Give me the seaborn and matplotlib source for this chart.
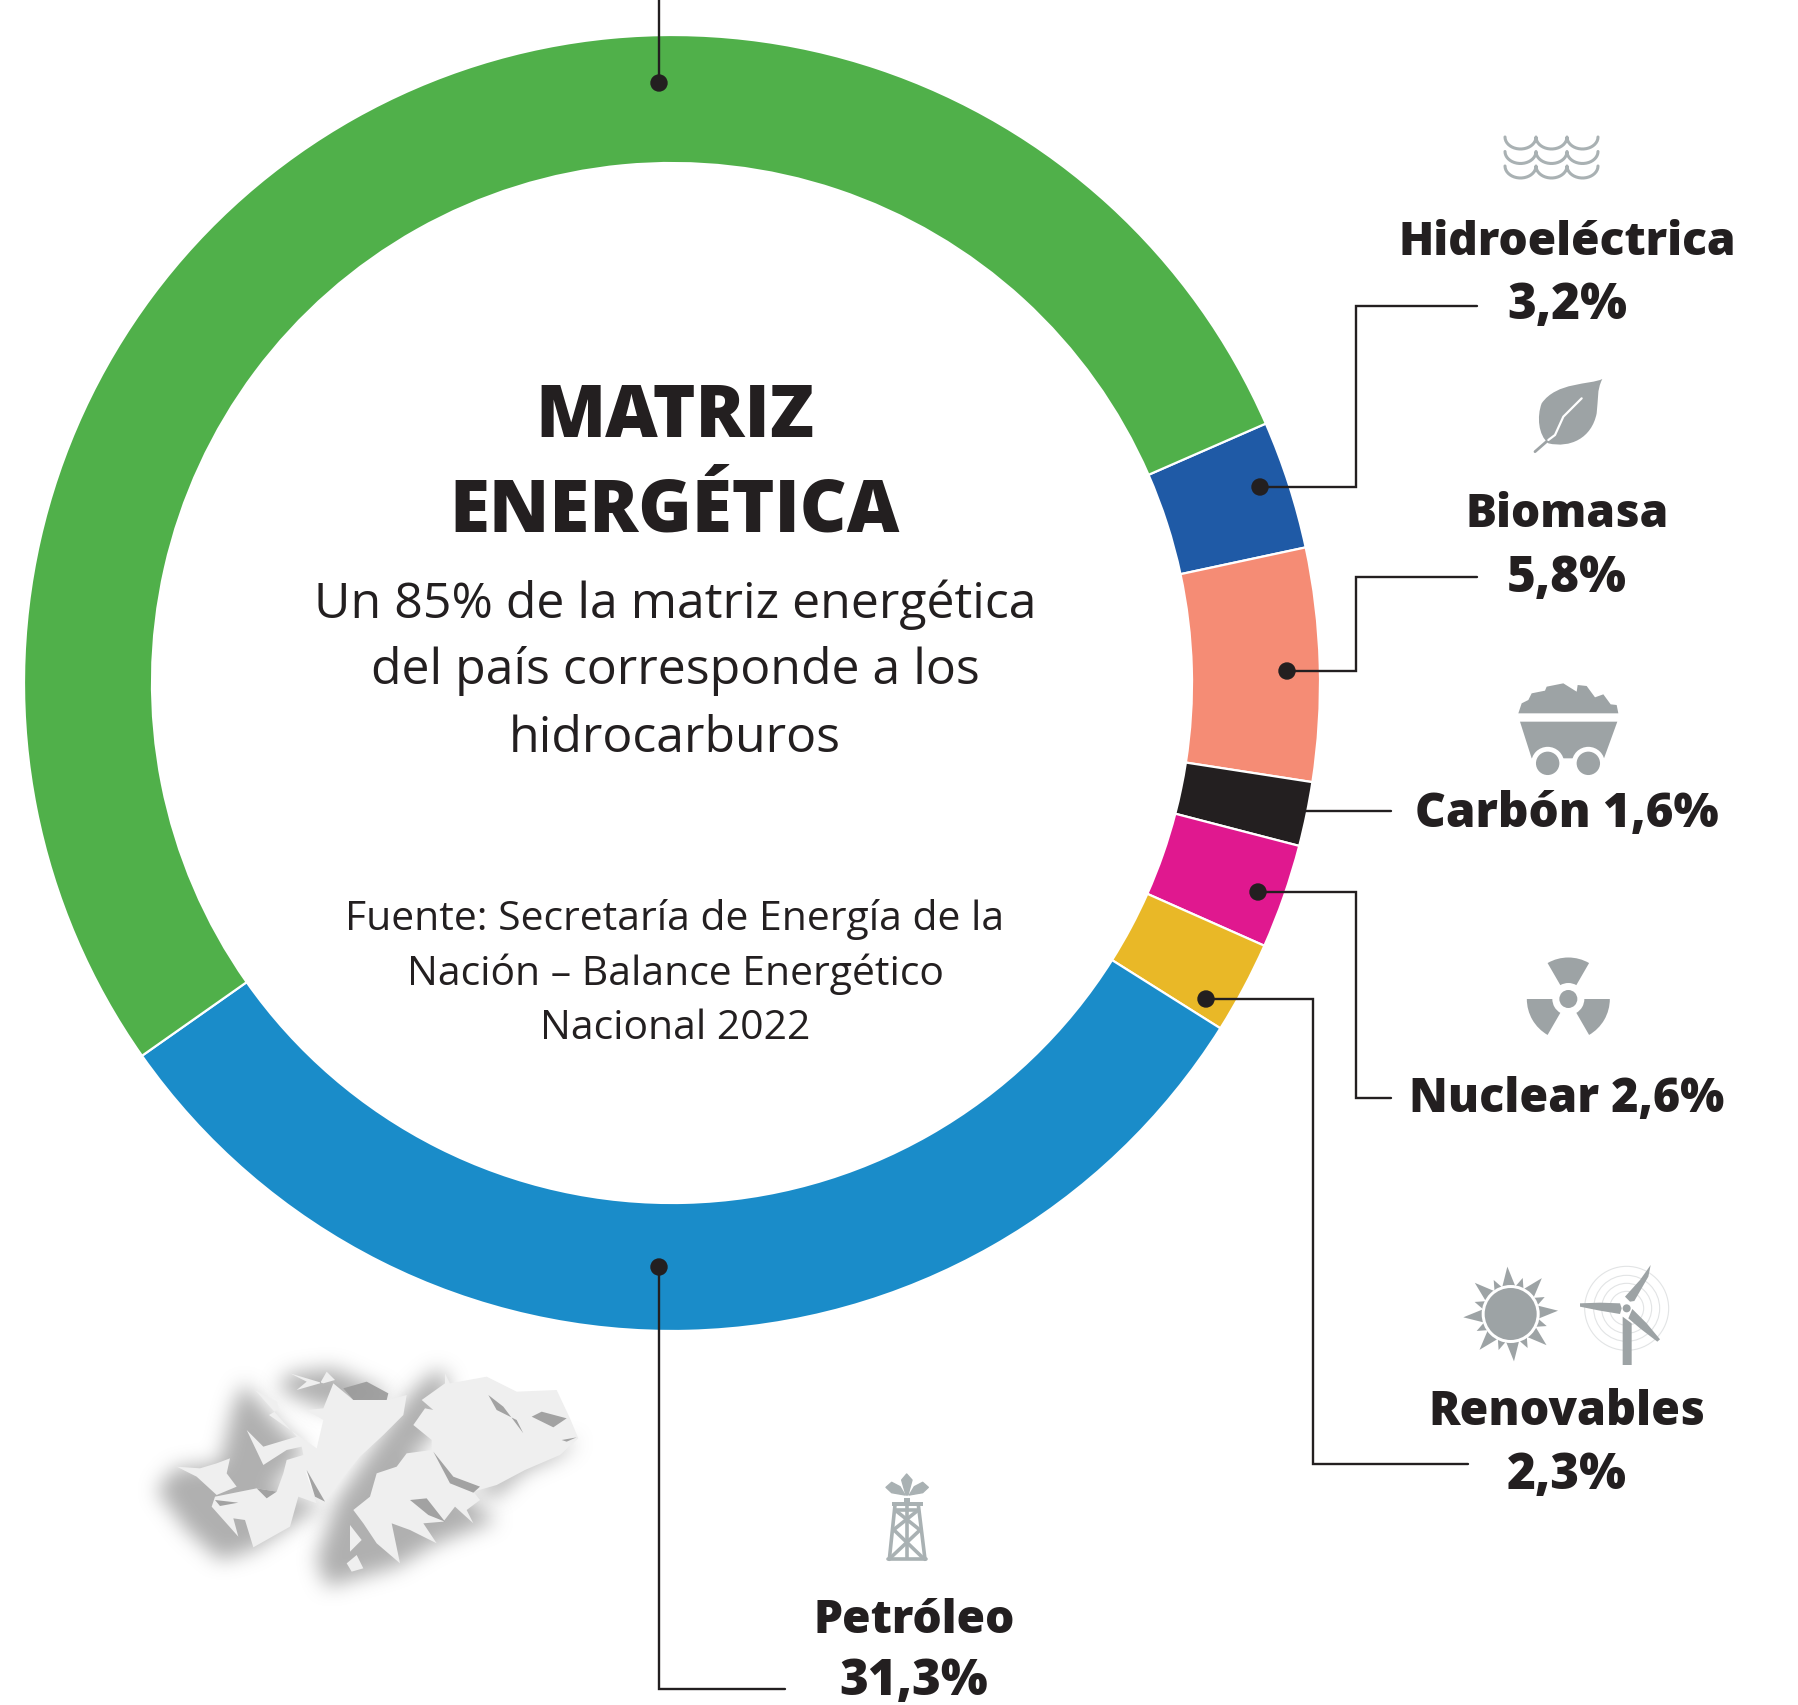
import numpy as np
import matplotlib
matplotlib.use('Agg')
import matplotlib.pyplot as plt
from matplotlib.patches import Polygon, Circle, Wedge, PathPatch
from matplotlib.path import Path
import seaborn as sns

# datos de la matriz (gas: el rotulo queda fuera del recorte)
fuentes = ['Hidroeléctrica', 'Biomasa', 'Carbón', 'Nuclear', 'Renovables', 'Petróleo', 'Gas']
valores = [3.2, 5.8, 1.6, 2.6, 2.3, 31.3, 53.2]
colores = ['#1F5AA6', '#F58C75', '#231F20', '#E0188F', '#E9B827', '#1A8CC9', '#50B04A']
etiquetas = ['3,2%', '5,8%', '1,6%', '2,6%', '2,3%', '31,3%']

sns.set_theme(style='white')
plt.rcParams['font.family'] = ['Open Sans', 'DejaVu Sans']

NEGRO = '#231F20'
GRIS = '#9DA3A5'

fig = plt.figure(figsize=(17.98, 17.05), dpi=100, facecolor='white')
ax = fig.add_axes([0, 0, 1, 1])

# el eje va en pixeles con y hacia abajo, asi que el angulo crece en sentido horario
ax.pie(valores, colors=sns.color_palette(colores), center=(672, 683), radius=648,
       startangle=-23.6, counterclock=True, normalize=True,
       wedgeprops=dict(width=128, edgecolor='white', linewidth=1.6))
ax.set_xlim(0, 1798)
ax.set_ylim(1705, 0)
ax.set_aspect('equal')
ax.axis('off')


def z(x0, y0, pts):
    return np.array(pts, dtype=float) / 3 + [x0, y0]


def linea(pts):
    pts = np.array(pts)
    ax.plot(pts[:, 0], pts[:, 1], color=NEGRO, lw=1.7, solid_joinstyle='miter', zorder=4)


def caja(a, r):
    # box blur sobre el eje 0
    h = a.shape[0]
    c = np.vstack([np.zeros((1, a.shape[1])), np.cumsum(a, axis=0)])
    i0 = np.clip(np.arange(h) - r, 0, h)
    i1 = np.clip(np.arange(h) + r + 1, 0, h)
    return (c[i1] - c[i0]) / (2 * r + 1)


def desenfoque(r):
    # blur para las sombras de las islas
    def filtro(img, dpi):
        pad = 3 * r + 2
        out = np.pad(img, ((pad, pad), (pad, pad), (0, 0)))
        alfa = out[:, :, 3]
        for _ in range(3):
            alfa = caja(alfa, r)
            alfa = caja(alfa.T, r).T
        out[:, :, :3] = matplotlib.colors.to_rgb('#9C9C9C')
        out[:, :, 3] = np.clip(alfa, 0, 1)
        return out, -pad, -pad
    return filtro


# lineas guia y puntos
linea([(659, 0), (659, 83)])
linea([(1260, 487), (1356, 487), (1356, 306), (1477, 306)])
linea([(1287, 671), (1356, 671), (1356, 577), (1477, 577)])
linea([(1305, 811), (1391, 811)])
linea([(1258, 892), (1356, 892), (1356, 1098), (1391, 1098)])
linea([(1206, 999), (1313, 999), (1313, 1464), (1468, 1464)])
linea([(659, 1267), (659, 1689), (785, 1689)])
for px, py in [(659, 83), (1260, 487), (1287, 671), (1258, 892), (1206, 999), (659, 1267)]:
    ax.add_patch(Circle((px, py), 8, color=NEGRO, zorder=5))

# textos centrales
tit = dict(ha='center', va='center', fontsize=52.2, fontweight=800, color=NEGRO)
ax.text(675, 418, 'MATRIZ', **tit)
ax.text(675, 513, 'ENERGÉTICA', **tit)
for ty, t in [(605, 'Un 85% de la matriz energética'), (671, 'del país corresponde a los'), (739, 'hidrocarburos')]:
    ax.text(675, ty, t, ha='center', va='center', fontsize=36, color=NEGRO)
for ty, t in [(919, 'Fuente: Secretaría de Energía de la'), (974, 'Nación – Balance Energético'), (1029, 'Nacional 2022')]:
    ax.text(675, ty, t, ha='center', va='center', fontsize=29.4, color=NEGRO)

# rotulos
LX = 1567
rot = dict(ha='center', va='center', fontsize=33.2, fontweight=800, color=NEGRO)
num = dict(rot, fontsize=35.6)
ax.text(LX, 243, fuentes[0], **rot)
ax.text(LX, 306, etiquetas[0], **num)
ax.text(LX, 515, fuentes[1], **rot)
ax.text(LX, 579, etiquetas[1], **num)
ax.text(LX, 815, fuentes[2] + ' ' + etiquetas[2], **dict(rot, fontsize=34.3))
ax.text(LX, 1100, fuentes[3] + ' ' + etiquetas[3], **dict(rot, fontsize=33.5))
ax.text(LX, 1413, fuentes[4], **dict(rot, fontsize=33.6))
ax.text(LX, 1476, etiquetas[4], **num)
ax.text(914, 1621, fuentes[5], **rot)
ax.text(914, 1682, etiquetas[5], **num)

# --- iconos ---
# olas
for oy in [0, 14.5, 29]:
    xs, ys = [], []
    for k in range(3):
        a = np.linspace(0, np.pi, 20)
        xs += list(1505 + 15.5 + 31 * k - 15.5 * np.cos(a))
        ys += list(137 + oy + 12 * np.sin(a))
    ax.plot(xs, ys, color='#A9B1B3', lw=2.2, solid_capstyle='round')

# hoja
Z1 = (1400, 110)
hoja = z(*Z1, [(607, 807), (570, 825), (470, 815), (425, 880), (410, 920), (415, 975), (445, 1000),
               (510, 1015), (575, 985), (590, 910), (595, 870), (590, 840), (607, 807)])
cods = [Path.MOVETO] + [Path.CURVE4] * 12
ax.add_patch(PathPatch(Path(hoja, cods), fc=GRIS, ec='none'))
t = z(*Z1, [(405, 1025), (445, 990)])
ax.plot(t[:, 0], t[:, 1], color=GRIS, lw=2)
n = z(*Z1, [(445, 990), (465, 975), (490, 920), (545, 865)])
ax.plot(n[:, 0], n[:, 1], color='white', lw=1.6)

# vagoneta
Z2 = (1400, 660)
ax.add_patch(Polygon(z(*Z2, [(355, 160), (365, 130), (385, 120), (395, 100), (435, 92), (440, 80), (490, 70),
                             (530, 95), (533, 75), (560, 78), (585, 112), (610, 103), (632, 133), (650, 135),
                             (655, 160)]), fc=GRIS, ec='none'))
ax.add_patch(Polygon(z(*Z2, [(360, 185), (652, 185), (612, 295), (395, 295)]), fc=GRIS, ec='none'))
for cx in [443, 565]:
    c = z(*Z2, [(cx, 310)])[0]
    ax.add_patch(Circle(c, 16.5, fc='white', ec='none'))
    ax.add_patch(Circle(c, 11.7, fc=GRIS, ec='none'))

# simbolo nuclear
c = z(*Z2, [(505, 1017)])[0]
ax.add_patch(Circle(c, 9, fc=GRIS, ec='none'))
for t1, t2 in [(240, 300), (120, 180), (0, 60)]:
    ax.add_patch(Wedge(c, 41.5, t1, t2, width=25.5, fc=GRIS, ec='none'))

# sol
Z3 = (1400, 1240)
c = z(*Z3, [(332, 222)])[0]
for k in range(8):
    for ang, tip, half in [(-4 + 45 * k, 47.5, 15), (18.5 + 45 * k, 38, 10)]:
        a0, a1 = np.radians([ang - half, ang + half])
        am = np.radians(ang)
        ax.add_patch(Polygon([c + 27 * np.array([np.cos(a0), np.sin(a0)]),
                              c + tip * np.array([np.cos(am), np.sin(am)]),
                              c + 27 * np.array([np.cos(a1), np.sin(a1)])], fc=GRIS, ec='none'))
ax.add_patch(Circle(c, 29, fc='white', ec='none'))
ax.add_patch(Circle(c, 26, fc=GRIS, ec='none'))

# molino
c = z(*Z3, [(680, 205)])[0]
for r in [17, 25, 33, 42]:
    ax.add_patch(Circle(c, r, fc='none', ec='#E2E4E5', lw=0.8))
for pala in ([(675, 170), (720, 120), (752, 75), (745, 110), (703, 183), (690, 185)],
             [(540, 190), (600, 188), (660, 190), (665, 205), (660, 222), (600, 212), (540, 200)],
             [(697, 207), (740, 250), (780, 298), (772, 305), (720, 265), (685, 235)],
             [(668, 230), (695, 250), (695, 375), (668, 375)]):
    ax.add_patch(Polygon(z(*Z3, pala), fc=GRIS, ec='none'))
ax.add_patch(Circle(c, 4, fc=GRIS, ec='none'))

# torre de petroleo
Z5 = (780, 1450)
for seg in ([(345, 165), (328, 328)], [(415, 165), (435, 328)], [(325, 328), (438, 328)],
            [(345, 180), (415, 180)], [(345, 180), (420, 240)], [(415, 180), (340, 240)],
            [(342, 240), (425, 320)], [(420, 240), (335, 320)], [(380, 160), (380, 325)]):
    s = z(*Z5, seg)
    ax.plot(s[:, 0], s[:, 1], color='#A9B1B3', lw=2.6)
ax.add_patch(Polygon(z(*Z5, [(337, 155), (428, 155), (428, 167), (337, 167)]), fc='#A9B1B3', ec='none'))
ax.add_patch(Polygon(z(*Z5, [(372, 145), (390, 145), (390, 156), (372, 156)]), fc='#A9B1B3', ec='none'))
for gota in ([(380, 72), (396, 90), (384, 135), (378, 135), (365, 90)],
             [(318, 112), (335, 97), (360, 110), (375, 135), (335, 128)],
             [(445, 112), (428, 97), (403, 110), (388, 135), (428, 128)]):
    ax.add_patch(Polygon(z(*Z5, gota), fc='#A9B1B3', ec='#A9B1B3', lw=1, joinstyle='round'))

# --- islas ---
Z4 = (120, 1340)
sombras = ([(370, 130), (500, 280), (560, 330), (450, 450), (610, 490), (400, 630), (300, 660), (200, 570),
            (110, 450), (165, 385), (300, 370), (340, 200)],
           [(955, 85), (990, 130), (935, 300), (870, 350), (1130, 540), (950, 610), (830, 680), (620, 740),
            (590, 660), (650, 480), (780, 290), (880, 150)],
           [(1375, 300), (1320, 345), (1215, 390), (1130, 470), (1060, 455), (1200, 330)],
           [(470, 140), (515, 100), (640, 85), (805, 160), (800, 180), (610, 205), (520, 170)])
for sh in sombras:
    p = Polygon(z(*Z4, sh), fc='#9C9C9C', ec='none', alpha=0.8)
    p.set_agg_filter(desenfoque(9))
    ax.add_patch(p)

CLARO = '#EFEFEF'
for p in ([(405, 150), (470, 185), (476, 208), (447, 225), (590, 325), (610, 240), (560, 210), (610, 205),
           (640, 130), (700, 180), (800, 180), (860, 165), (850, 225), (790, 285), (720, 350), (680, 400),
           (615, 485), (555, 390), (590, 490), (535, 470), (510, 560), (400, 622), (375, 540), (340, 535),
           (355, 590), (275, 500), (285, 470), (410, 445), (470, 455), (490, 400), (500, 360), (550, 345),
           (545, 320), (500, 330), (430, 375), (380, 270), (430, 320), (530, 290)],
          [(170, 380), (240, 385), (290, 370), (330, 355), (320, 400), (350, 440), (290, 465), (230, 410)],
          [(510, 100), (560, 125), (530, 150), (600, 130), (620, 95), (645, 120), (610, 130)],
          [(975, 100), (990, 130), (1100, 110), (1190, 155), (1310, 150), (1350, 235), (1375, 295), (1320, 345),
           (1215, 390), (1130, 435), (1060, 455), (1080, 480), (1040, 510), (1060, 550), (1005, 500), (970, 545),
           (910, 550), (950, 610), (870, 570), (815, 550), (840, 670), (770, 610), (730, 550), (700, 510),
           (750, 470), (770, 400), (830, 380), (860, 340), (935, 330), (935, 300), (880, 255), (915, 205),
           (940, 210), (905, 180), (975, 130)],
          [(690, 555), (725, 600), (690, 635)],
          [(680, 670), (710, 645), (730, 685), (695, 695)]):
    ax.add_patch(Polygon(z(*Z4, p), fc=CLARO, ec='none'))
for p in ([(1105, 165), (1150, 200), (1210, 280), (1190, 240), (1130, 210)],
          [(1235, 230), (1265, 215), (1340, 235), (1300, 262)],
          [(940, 335), (1000, 410), (1080, 440), (1060, 458), (990, 430)],
          [(870, 480), (920, 475), (975, 545), (925, 525)],
          [(1325, 300), (1370, 292), (1340, 305)],
          [(285, 480), (355, 488), (300, 498)],
          [(410, 445), (470, 455), (440, 475)],
          [(560, 390), (615, 485), (585, 470)],
          [(670, 145), (740, 125), (805, 160), (800, 180), (700, 180)]):
    ax.add_patch(Polygon(z(*Z4, p), fc='#9A9A9A', ec='none', alpha=0.9))

plt.savefig('out.png', dpi=100)
